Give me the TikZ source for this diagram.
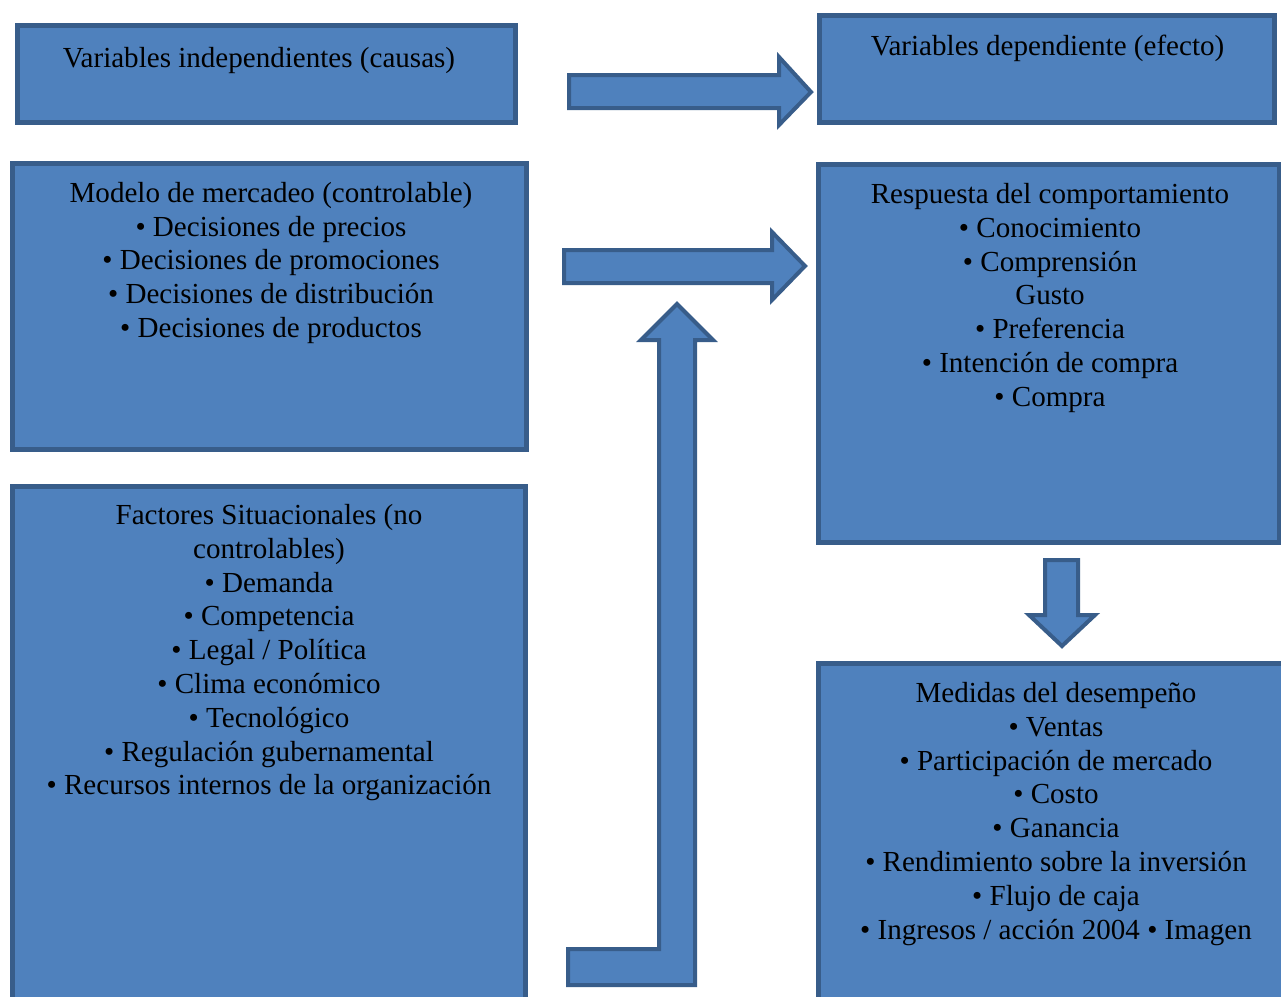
\documentclass[tikz,border=0pt]{standalone}
\usepackage{fontspec}
\setmainfont{Liberation Serif}
\definecolor{boxfill}{HTML}{4F81BD}
\definecolor{boxline}{HTML}{385D8A}
\tikzset{
  panel/.style={draw=boxline, fill=boxfill, line width=3.75pt, line join=miter},
  blockarrow/.style={draw=boxline, fill=boxfill, line width=3pt, line join=miter},
  txt/.style={anchor=base, inner sep=0pt, font=\fontsize{21.8}{25.3}\selectfont}
}
\begin{document}
\begin{tikzpicture}[x=0.75pt,y=-0.75pt]
\useasboundingbox (0,0) rectangle (1281,996);
\clip (0,0) rectangle (1281,996);
% panels
\draw[panel] (17.5,25.5) rectangle (515.5,122.5);
\draw[panel] (819.5,15.5) rectangle (1274.5,122.5);
\draw[panel] (12.5,163.5) rectangle (526.5,449.5);
\draw[panel] (12.5,486.5) rectangle (525.5,1010);
\draw[panel] (818.5,164.5) rectangle (1279.5,542.5);
\draw[panel] (818.5,663.5) rectangle (1290,1010);
% block arrows
\draw[blockarrow] (569,75) -- (779,75) -- (779,57) -- (811,92) -- (779,125) -- (779,108) -- (569,108) -- cycle;
\draw[blockarrow] (564,250) -- (772,250) -- (772,232) -- (805,266) -- (772,300) -- (772,283) -- (564,283) -- cycle;
\draw[blockarrow] (568,949) -- (659,949) -- (659,340) -- (641,340) -- (677,304) -- (713,340) -- (695,340) -- (695,985) -- (568,985) -- cycle;
\draw[blockarrow] (1045,560) -- (1078,560) -- (1078,615) -- (1095,615) -- (1062,646) -- (1029,615) -- (1045,615) -- cycle;
% texts
\node[txt] (t1) at (259,67) {Variables independientes (causas)};
\node[txt] (t2) at (1047.5,55) {Variables dependiente (efecto)};
\foreach \s [count=\i] in {Modelo de mercadeo (controlable),{• Decisiones de precios},{• Decisiones de promociones},{• Decisiones de distribución},{• Decisiones de productos}}
  \node[txt] (t3-\i) at (271,202.5+33.7*\i-33.7) {\s};
\foreach \s [count=\i] in {Factores Situacionales (no,controlables),{• Demanda},{• Competencia},{• Legal / Política},{• Clima económico},{• Tecnológico},{• Regulación gubernamental},{• Recursos internos de la organización}}
  \node[txt] (t4-\i) at (269,524.5+33.8*\i-33.8) {\s};
\foreach \s [count=\i] in {Respuesta del comportamiento,{• Conocimiento},{• Comprensión},Gusto,{• Preferencia},{• Intención de compra},{• Compra}}
  \node[txt] (t5-\i) at (1050,203.5+33.8*\i-33.8) {\s};
\foreach \s [count=\i] in {Medidas del desempeño,{• Ventas},{• Participación de mercado},{• Costo},{• Ganancia},{• Rendimiento sobre la inversión},{• Flujo de caja},{• Ingresos / acción 2004 • Imagen}}
  \node[txt] (t6-\i) at (1056,702.5+33.8*\i-33.8) {\s};
\end{tikzpicture}
\end{document}
